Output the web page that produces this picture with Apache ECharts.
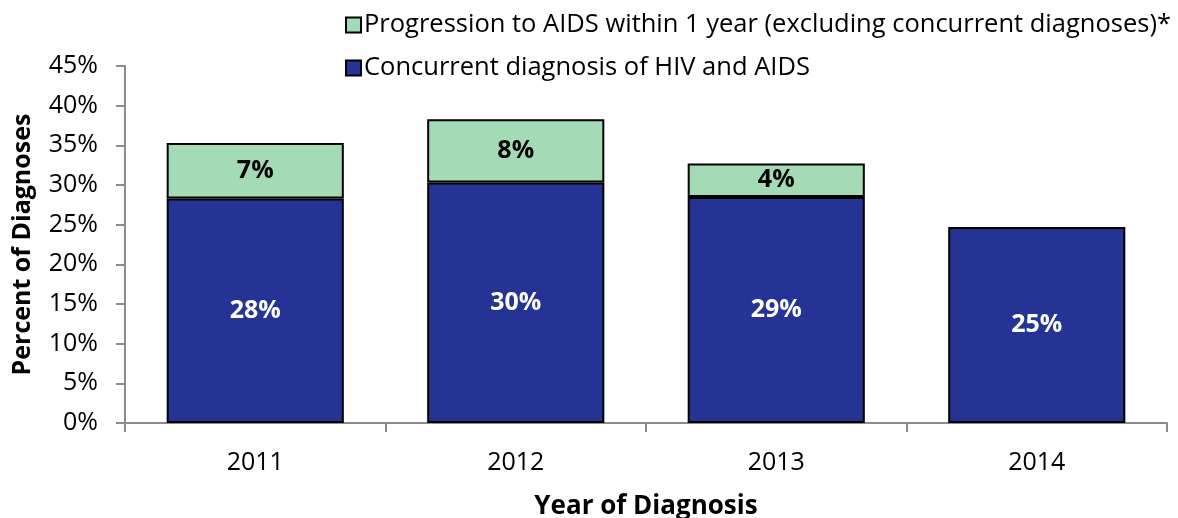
<!DOCTYPE html>
<html>
<head>
<meta charset="utf-8">
<script src="https://cdn.jsdelivr.net/npm/echarts@6/dist/echarts.min.js"></script>
<style>
  html, body { margin: 0; padding: 0; background: #fff; }
  #chart { width: 1178px; height: 518px; }
</style>
</head>
<body>
<div id="chart"></div>
<script>
var years = ['2011', '2012', '2013', '2014'];
var concurrent = [28.3, 30.3, 28.5, 24.7];
var progression = [7.0, 8.0, 4.2, null];
var yTicks = [0, 5, 10, 15, 20, 25, 30, 35, 40, 45];

var FONT = '"Open Sans", Lato, sans-serif';
var BLUE = '#253494';
var GREEN = '#a3dbb6';

var chart = echarts.init(document.getElementById('chart'));

var option = {
    animation: false,
    textStyle: { fontFamily: FONT },
    legend: {
        orient: 'vertical',
        left: 340,
        top: 7,
        itemWidth: 15,
        itemHeight: 15,
        itemGap: 17,
        icon: 'rect',
        data: ['Progression to AIDS within 1 year (excluding concurrent diagnoses)*', 'Concurrent diagnosis of HIV and AIDS'],
        textStyle: { fontSize: 25.5, color: '#000', fontFamily: FONT, padding: [0, 0, 0, -2] }
    },
    grid: {
        left: 125,
        right: 11,
        top: 66,
        bottom: 95,
        containLabel: false,
        outerBoundsMode: 'none'
    },
    xAxis: {
        type: 'category',
        data: years,
        name: 'Year of Diagnosis',
        nameLocation: 'middle',
        nameGap: 71,
        nameTextStyle: { fontSize: 26, fontWeight: 'bold', color: '#000', fontFamily: FONT },
        axisLine: { lineStyle: { color: '#8c8c8c', width: 2 } },
        axisTick: { show: true, length: 9, lineStyle: { color: '#8c8c8c', width: 2 } },
        axisLabel: { fontSize: 25, color: '#000', margin: 27, fontFamily: FONT }
    },
    yAxis: {
        type: 'value',
        min: 0,
        max: 45,
        interval: 5,
        name: 'Percent of Diagnoses',
        nameLocation: 'middle',
        nameGap: 90,
        nameTextStyle: { fontSize: 25, fontWeight: 'bold', color: '#000', fontFamily: FONT },
        splitLine: { show: false },
        axisLine: { show: true, lineStyle: { color: '#8c8c8c', width: 2 } },
        axisTick: { show: true, length: 9, lineStyle: { color: '#8c8c8c', width: 2 } },
        axisLabel: {
            fontSize: 25,
            color: '#000',
            margin: 27,
            fontFamily: FONT,
            formatter: function (v) { return yTicks.indexOf(v) >= 0 ? v + '%' : ''; }
        }
    },
    series: [{
        name: 'Concurrent diagnosis of HIV and AIDS',
        type: 'bar',
        stack: 'total',
        barCategoryGap: '32%',
        data: concurrent,
        itemStyle: { color: BLUE, borderColor: '#000', borderWidth: 2 },
        label: {
            show: true,
            position: 'inside',
            color: '#fff',
            fontSize: 25,
            fontWeight: 'bold',
            fontFamily: FONT,
            formatter: function (p) { return Math.round(p.value) + '%'; }
        }
    }, {
        name: 'Progression to AIDS within 1 year (excluding concurrent diagnoses)*',
        type: 'bar',
        stack: 'total',
        barCategoryGap: '32%',
        data: progression,
        itemStyle: { color: GREEN, borderColor: '#000', borderWidth: 2 },
        label: {
            show: true,
            position: 'inside',
            color: '#000',
            fontSize: 25,
            fontWeight: 'bold',
            fontFamily: FONT,
            formatter: function (p) { return p.value == null ? '' : Math.round(p.value) + '%'; }
        }
    }]
};

chart.setOption(option);
</script>
</body>
</html>
